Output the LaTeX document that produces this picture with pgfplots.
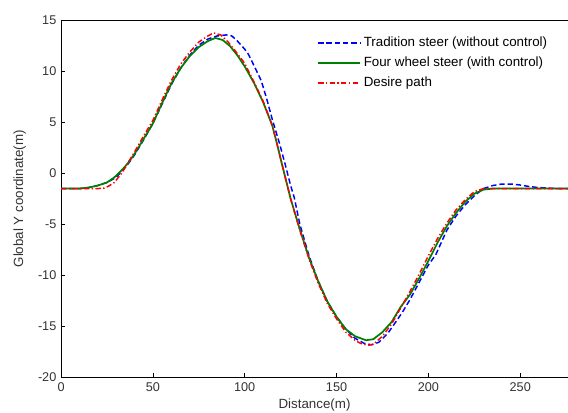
\documentclass[border=0pt]{standalone}
\usepackage{fontspec}
\setmainfont{Liberation Sans}
\usepackage{pgfplots}
\pgfplotsset{compat=1.18}

\definecolor{mblue}{RGB}{0,0,255}
\definecolor{mgreen}{RGB}{0,128,0}
\definecolor{mred}{RGB}{255,0,0}

\begin{document}
\begin{tikzpicture}
\begin{axis}[
    scale only axis,
    width=380pt, height=267pt,
    xmin=0, xmax=276,
    ymin=-20, ymax=15,
    xtick={0,50,100,150,200,250},
    ytick={-20,-15,-10,-5,0,5,10,15},
    axis lines=left,
    axis line style={-, black, line width=0.5pt},
    tick align=inside,
    major tick length=3pt,
    tick style={black, line width=0.5pt},
    /pgf/number format/assume math mode=true,
    tick label style={font=\fontsize{9.5}{11}\selectfont, text=black!80},
    xticklabel style={yshift=-1pt},
    label style={font=\fontsize{10}{12}\selectfont, text=black!80},
    xlabel={Distance(m)},
    ylabel={Global Y coordinate(m)},
    xlabel style={at={([yshift=-21pt]axis description cs:0.5,0)}, anchor=center},
    ylabel style={at={([xshift=-31pt]axis description cs:0,0.5)}, anchor=center, rotate=0},
    legend style={draw=none, fill=none, inner sep=0pt, at={(0.505,0.962)}, anchor=north west,
        font=\fontsize{10}{12}\selectfont, row sep=2.3pt},
    legend cell align=left,
    legend image code/.code={\draw[#1] (0cm,0cm) -- (31.5pt,0cm);},
]
% Tradition steer (without control)
\addplot[mblue, line width=1.1pt, dash pattern=on 4pt off 2.2pt] coordinates {
(0,-1.5) (5,-1.5) (10,-1.5) (15,-1.4) (20,-1.2) (25,-0.9) (30,-0.4) (33,0.2)
(36,0.8) (40,1.8) (45,3.3) (50,4.9) (55,6.8) (60,8.7) (65,10.3) (70,11.6)
(75,12.6) (80,13.2) (85,13.5) (90,13.6) (93,13.5) (96,13.0) (100,12.2)
(102,11.7) (105,10.6) (109,9.1) (112,7.3) (115,5.3) (119,2.9) (122,0.9)
(125,-1.2) (127,-2.4) (130,-5.0) (135,-8.1) (140,-10.6) (145,-12.6)
(150,-14.1) (155,-15.3) (160,-16.2) (165,-16.7) (169,-16.85) (173,-16.6)
(178,-15.7) (183,-14.4) (186,-13.6) (190,-12.4) (195,-10.7) (200,-9.0)
(204,-8.0) (210,-5.6) (215,-4.2) (220,-3.1) (225,-2.2) (230,-1.5)
(235,-1.2) (240,-1.05) (245,-1.05) (250,-1.15) (255,-1.3) (260,-1.4)
(265,-1.45) (270,-1.5) (276,-1.5)
};
\addlegendentry{Tradition steer (without control)}
% Four wheel steer (with control)
\addplot[mgreen, line width=1.3pt] coordinates {
(0,-1.5) (5,-1.5) (10,-1.5) (15,-1.4) (20,-1.2) (25,-0.9) (29,-0.4) (33,0.3)
(36,0.9) (40,1.9) (45,3.4) (50,4.9) (55,6.9) (60,8.8) (65,10.3) (70,11.5)
(75,12.4) (80,13.0) (84,13.3) (88,13.1) (92,12.5) (96,11.6) (100,10.5)
(105,8.9) (110,7.0) (115,4.7) (117.5,2.95) (120,1.1) (125,-2.5) (130,-5.5)
(135,-8.3) (140,-10.6) (145,-12.6) (150,-14.1) (155,-15.3) (160,-16.0)
(166,-16.4) (170,-16.3) (175,-15.6) (180,-14.6) (185,-13.1) (190,-11.9)
(195,-10.3) (200,-8.6) (205,-6.8) (210,-5.2) (215,-3.9) (220,-2.8)
(225,-2.0) (230,-1.6) (235,-1.5) (276,-1.5)
};
\addlegendentry{Four wheel steer (with control)}
% Desire path
\addplot[mred, line width=1.1pt, dash pattern=on 4pt off 1.8pt on 1pt off 1.8pt] coordinates {
(0,-1.5) (5,-1.5) (10,-1.5) (15,-1.5) (20,-1.5) (23.5,-1.45) (26,-1.25)
(29,-0.9) (33,0.0) (36,0.9) (40,2.1) (45,3.7) (50,5.2) (55,7.2) (60,9.1)
(65,10.7) (70,11.9) (75,12.9) (80,13.5) (83,13.8) (87,13.6) (91,12.9)
(95,12.0) (100,10.8) (105,9.0) (110,7.1) (115,4.7) (117.5,2.95) (120,1.1)
(125,-2.5) (130,-5.6) (135,-8.4) (140,-10.8) (145,-12.8) (150,-14.3)
(155,-15.6) (160,-16.4) (163,-16.7) (167,-16.9) (170,-16.8) (175,-16.0)
(180,-14.8) (185,-13.2) (190,-11.6) (195,-9.9) (200,-8.1) (205,-6.4)
(210,-4.9) (215,-3.6) (220,-2.6) (225,-1.8) (230,-1.5) (276,-1.5)
};
\addlegendentry{Desire path}
% top frame line with inward ticks
\draw[black, line width=0.5pt] (rel axis cs:0,1) -- (rel axis cs:1,1);
\pgfplotsinvokeforeach{50,100,150,200,250}{
  \draw[black, line width=0.5pt] (axis cs:#1,15) -- ++(0,-3pt);
}
\end{axis}
\pgfresetboundingbox
\path ([xshift=-45.75pt, yshift=-26.5pt]current axis.south west)
  rectangle ([yshift=15.5pt]current axis.north east);
\end{tikzpicture}
\end{document}
